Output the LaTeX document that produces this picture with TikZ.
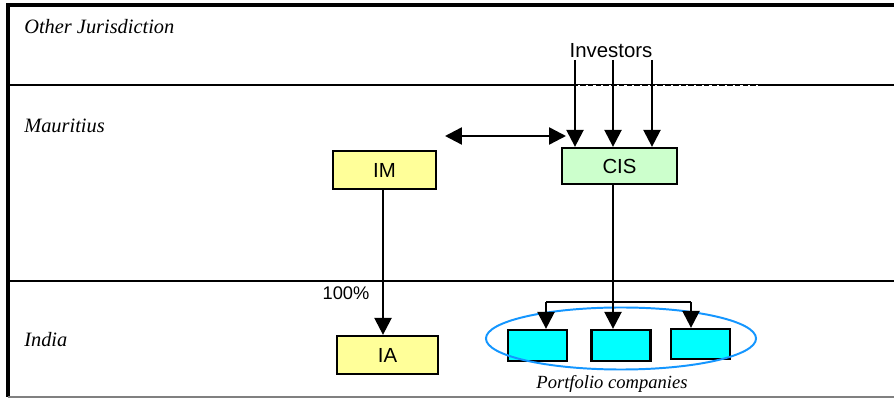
\documentclass[tikz,border=0pt]{standalone}
\usepackage{fontspec}
\setmainfont{Liberation Serif}
\setsansfont{Liberation Sans}
\usetikzlibrary{arrows.meta,shapes.geometric}

\definecolor{boxYellow}{RGB}{255,255,153}
\definecolor{boxGreen}{RGB}{204,255,204}
\definecolor{boxCyan}{RGB}{0,255,255}
\definecolor{ringBlue}{RGB}{20,150,255}

\tikzstyle{zoneLine} = [line width=1.7pt]
\tikzstyle{zoneLabel} = [anchor=west, inner sep=0pt, font=\fontsize{14.5}{17}\selectfont\itshape]
\tikzstyle{entNode} = [rectangle, minimum height=0.95cm, text centered, draw=black, line width=1.6pt, font=\sffamily\fontsize{14.5}{17}\selectfont]
\tikzstyle{pcNode} = [rectangle, minimum width=1.475cm, minimum height=0.775cm, draw=black, line width=1.6pt, fill=boxCyan]
\tikzstyle{arrow} = [line width=1.7pt,-{Triangle[length=12pt,width=12pt]}]
\tikzstyle{dblarrow} = [line width=1.7pt,{Triangle[length=12pt,width=12pt]}-{Triangle[length=12pt,width=12pt]}]

\begin{document}
\begin{tikzpicture}[x=0.025cm, y=-0.025cm]
    \useasboundingbox (0,0) rectangle (894,398);

    % zones
    \draw [line width=2.2pt] (8,397) -- (8,5) -- (894,5);
    \draw [zoneLine] (8,85) -- (894,85);
    \draw [zoneLine] (8,281) -- (894,281);
    \draw [gray, line width=0.9pt] (8,397) -- (894,397);
    \draw [white, line width=0.6pt, dash pattern=on 1.5pt off 4pt] (578,85) -- (760,85);

    \node (other_label)[zoneLabel] at (24,27) {Other Jurisdiction};
    \node (mauritius_label)[zoneLabel] at (24,126) {Mauritius};
    \node (india_label)[zoneLabel] at (24,340) {India};

    % entities
    \node (investors)[inner sep=1pt, font=\sffamily\fontsize{14.5}{17}\selectfont] at (611,51) {Investors};
    \node (IM)[entNode, minimum width=2.575cm, fill=boxYellow] at (384.5,170) {IM};
    \node (CIS)[entNode, minimum width=2.875cm, minimum height=0.9cm, fill=boxGreen] at (619.5,166) {CIS};
    \node (IA)[entNode, minimum width=2.525cm, fill=boxYellow] at (387.5,355) {IA};

    \node (pc1)[pcNode] at (537.5,345.5) {};
    \node (pc2)[pcNode] at (621,345.5) {};
    \node (pc3)[pcNode, minimum height=0.75cm] at (700.5,344) {};
    \node (portfolio)[ellipse, draw=ringBlue, line width=1.4pt, minimum width=6.75cm, minimum height=1.55cm, inner sep=0pt] at (621,338.5) {};
    \node (portfolio_label)[font=\fontsize{13.2}{15}\selectfont\itshape, inner sep=0pt] at (612,384) {Portfolio companies};

    % links
    \foreach \x in {575,613,652}
        \draw [arrow] (investors.south -| \x,0) -- (CIS.north -| \x,0);

    \coordinate (link_left) at (445,136);
    \coordinate (link_right) at (566,136);
    \draw [dblarrow] (link_left) -- (link_right);

    \draw [arrow] (IM.south -| 383,0) -- (IA.north -| 383,0);
    \node (stake)[font=\sffamily\fontsize{13}{15}\selectfont, inner sep=0pt] at (346,293) {100\%};

    \coordinate (split) at (613,302);
    \coordinate (split_left) at (546,302);
    \coordinate (split_right) at (691,302);
    \draw [line width=1.6pt] (CIS.south -| split) -- (split);
    \draw [line width=1.6pt] (split_left) -- (split_right);
    \draw [arrow] (split_left) -- (pc1.north -| split_left);
    \draw [arrow] (split) -- (pc2.north -| split);
    \draw [arrow] (split_right) -- (pc3.north -| split_right);
\end{tikzpicture}
\end{document}
